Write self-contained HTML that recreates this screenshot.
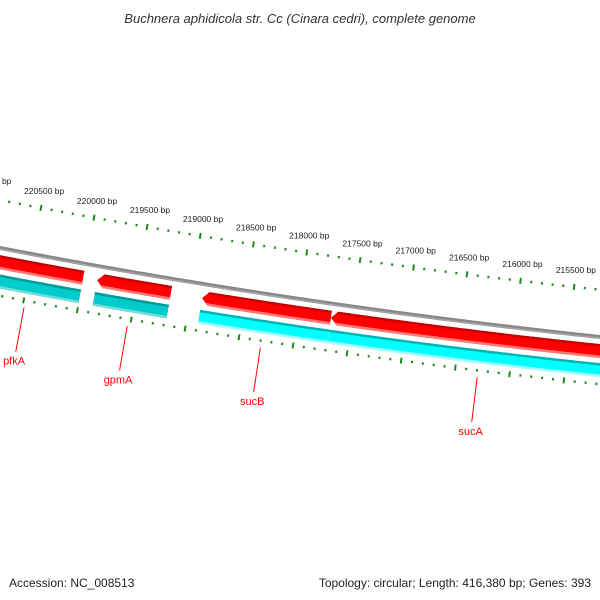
<!DOCTYPE html>
<html><head><meta charset="utf-8"><style>
body{margin:0;background:#fff;}
svg{display:block;font-family:"Liberation Sans",sans-serif;}
</style></head><body>
<svg id="map" width="600" height="600" viewBox="0 0 600 600" xmlns="http://www.w3.org/2000/svg">
<rect width="600" height="600" fill="#fff"/>
<text x="300" y="23" text-anchor="middle" font-size="13" font-style="italic" fill="#333">Buchnera aphidicola str. Cc (Cinara cedri), complete genome</text>
<g id="plot"></g>
<text x="9" y="587" font-size="12" fill="#222">Accession: NC_008513</text>
<text x="591" y="587" font-size="12" fill="#222" text-anchor="end">Topology: circular; Length: 416,380 bp; Genes: 393</text>
</svg>
<script>
const geneNames = ["pfkA","gpmA","sucB","sucA"];
const featLeft = [220970, 219871, 218892, 217692];
const featRight = [220000, 219181, 217692, 214890];
const cdsColor = ["#00cccc","#00cccc","#00ffff","#00ffff"];
const tickStart = 214500, tickEnd = 221500, minorStep = 100, majorStep = 500;

const NS="http://www.w3.org/2000/svg";
const cx=1345, cy=-6754, k=1.522e-5, th0=-0.17755, ref=220000;
function ang(bp){return th0+(ref-bp)*k;}
function pt(bp,r){const t=ang(bp);return [cx+r*Math.sin(t), cy+r*Math.cos(t)];}
const plot=document.getElementById('plot');
function mk(tag,attrs,parent){const e=document.createElementNS(NS,tag);for(const a in attrs)e.setAttribute(a,attrs[a]);(parent||plot).appendChild(e);return e;}
function arcPts(b1,b2,r){const pts=[];const n=Math.max(2,Math.ceil(Math.abs(b1-b2)/20));for(let i=0;i<=n;i++){pts.push(pt(b1+(b2-b1)*i/n,r));}return pts;}
function ps(pts){return pts.map(p=>p[0].toFixed(2)+","+p[1].toFixed(2)).join(" ");}

// backbone
let bb=mk('polyline',{points:ps(arcPts(222000,213000,7130)),fill:'none',stroke:'#888',"stroke-width":4});


let bb2=mk('polyline',{points:ps(arcPts(222000,213000,7131)),fill:'none',stroke:'#a8a8a8',"stroke-width":1.2});



// ticks
function ring(r,labels,nameP){
  for(let bp=tickStart;bp<=tickEnd;bp+=minorStep){
    const major=bp%majorStep===0;
    const len=major?6:2.4;
    const a=pt(bp,r-len/2),b=pt(bp,r+len/2);
    const t=mk('line',{x1:a[0],y1:a[1],x2:b[0],y2:b[1],stroke:'#1a8a1a',"stroke-width":2});
    
    
    if(major&&labels){
      const p=pt(bp,7066);
      const tx=mk('text',{x:p[0],y:p[1]+3,"text-anchor":"middle","font-size":"8.5",fill:"#222"});
      tx.textContent=bp+" bp";
      
      
    }
  }
}
ring(7083,true,'inner-ring');
ring(7177,false,'outer-ring');

// features
const defs=mk('defs',{});
function band(i,r0,r1,arrow,main,top,bot,nm){
  const L=featLeft[i],R=featRight[i],h=arrow?60:0;
  const outer=arcPts(L-h,R,r0), inner=arcPts(R,L-h,r1);
  let pts=outer.concat(inner);
  if(arrow)pts.push(pt(L,(r0+r1)/2));
  const id='c'+nm+i;
  const cp=mk('clipPath',{id:id},defs);
  mk('polygon',{points:ps(pts)},cp);
  const g=mk('g',{"clip-path":"url(#"+id+")"});
  
  
  mk('polygon',{points:ps(pts),fill:main},g);
  mk('polyline',{points:ps(arcPts(L+50,R-50,r0+1.2)),fill:'none',stroke:top,"stroke-width":2.6},g);
  mk('polyline',{points:ps(arcPts(L+50,R-50,r1-1.3)),fill:'none',stroke:bot,"stroke-width":2.6},g);
}
for(let i=0;i<geneNames.length;i++){
  band(i,7137,7151,true,'#ff0000','#c80000','#ff7878','gene');
  const c=cdsColor[i];
  band(i,7156,7170,false,c,c==='#00ffff'?'#00b4b4':'#009a9a',c==='#00ffff'?'#a8ffff':'#70dcdc','cds');
  const mid=(featLeft[i]+featRight[i])/2;
  const a=pt(mid,7184),b=pt(mid,7229);
  const ln=mk('line',{x1:a[0],y1:a[1],x2:b[0],y2:b[1],stroke:'#ff0000',"stroke-width":1});
  
  
  const p=pt(mid,7238);
  const tx=mk('text',{x:p[0],y:p[1]+4,"text-anchor":"middle","font-size":"11",fill:"#ff0000"});
  tx.textContent=geneNames[i];
  
  
}
</script>
</body></html>
